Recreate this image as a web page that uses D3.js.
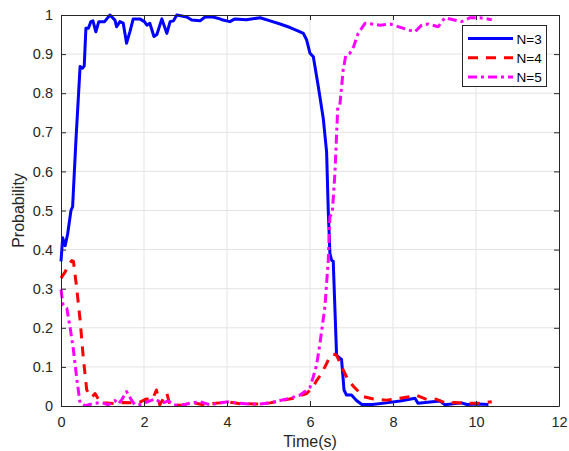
<!DOCTYPE html>
<html>
<head>
<meta charset="utf-8">
<title>Probability vs time</title>
<style>
body { margin: 0; background: #fff; }
svg { display: block; font-family: Arial, "Liberation Sans", sans-serif; }
.grid line { stroke: #e3e3e3; stroke-width: 1; }
.axis path, .axis line { stroke: #262626; }
.axis text { fill: #262626; font-size: 14.5px; }
.series { fill: none; stroke-width: 3; stroke-linejoin: round; }
</style>
</head>
<body>
<svg id="chart" width="569" height="451"></svg>
<script src="https://cdnjs.cloudflare.com/ajax/libs/d3/7.8.5/d3.min.js"></script>
<script>
// values
const xTicks = [0, 2, 4, 6, 8, 10, 12];
const yTicks = [0, 0.1, 0.2, 0.3, 0.4, 0.5, 0.6, 0.7, 0.8, 0.9, 1];
const seriesNames = ["N=3", "N=4", "N=5"];

const n3Time = [0, 0.04, 0.1, 0.16, 0.24, 0.28, 0.36, 0.46, 0.52, 0.56, 0.6, 0.66, 0.72, 0.77, 0.84, 0.91,
  1.05, 1.18, 1.3, 1.34, 1.42, 1.5, 1.58, 1.66, 1.74, 1.9, 2.01, 2.07, 2.14, 2.24, 2.31, 2.43, 2.55, 2.63,
  2.71, 2.79, 3.03, 3.15, 3.35, 3.47, 3.66, 3.83, 3.9, 4.07, 4.19, 4.47, 4.8, 5.04, 5.28, 5.52, 5.72, 5.84,
  5.92, 6.0, 6.08, 6.2, 6.32, 6.4, 6.44, 6.48, 6.52, 6.56, 6.6, 6.64, 6.7, 6.76, 6.82, 6.88, 7.0, 7.12,
  7.25, 7.5, 7.84, 8.17, 8.53, 8.6, 9.13, 9.25, 9.65, 9.78, 10.06, 10.3];
const n3Prob = [0.37, 0.43, 0.41, 0.44, 0.5, 0.51, 0.68, 0.868, 0.864, 0.87, 0.966, 0.966, 0.983, 0.985, 0.957, 0.983,
  0.983, 1.0, 0.987, 0.97, 0.983, 0.979, 0.928, 0.957, 0.99, 0.99, 0.983, 0.974, 0.979, 0.945, 0.95, 0.99, 0.953, 0.983,
  0.985, 1.0, 0.995, 0.987, 0.985, 0.995, 0.995, 0.99, 0.987, 0.983, 0.99, 0.988, 0.993, 0.985, 0.977, 0.968, 0.959, 0.953,
  0.936, 0.902, 0.893, 0.817, 0.735, 0.65, 0.5, 0.39, 0.373, 0.37, 0.25, 0.13, 0.124, 0.119, 0.041, 0.028, 0.028, 0.014,
  0.004, 0.004, 0.008, 0.013, 0.02, 0.007, 0.013, 0.003, 0.008, 0.004, 0.005, 0.004];

const n4Time = [0, 0.1, 0.18, 0.26, 0.3, 0.38, 0.46, 0.54, 0.62, 0.74, 0.82, 0.96, 1.1, 1.3, 1.5, 1.7, 1.9,
  2.06, 2.2, 2.3, 2.38, 2.55, 2.62, 2.9, 3.2, 3.4, 3.83, 4.07, 4.31, 4.8, 5.04, 5.28, 5.6, 5.92, 6.08, 6.16,
  6.26, 6.36, 6.48, 6.56, 6.64, 6.8, 6.92, 7.05, 7.29, 7.53, 7.85, 8.17, 8.41, 8.57, 8.81, 9.05, 9.29, 9.49,
  9.78, 10.1, 10.38];
const n4Prob = [0.327, 0.343, 0.36, 0.372, 0.37, 0.3, 0.22, 0.12, 0.041, 0.022, 0.032, 0.007, 0.008, 0.006, 0.009, 0.008, 0.01,
  0.018, 0.016, 0.041, 0.003, 0.033, 0.004, 0.002, 0.008, 0.004, 0.008, 0.01, 0.006, 0.005, 0.008, 0.013, 0.02, 0.032, 0.05, 0.065,
  0.08, 0.1, 0.126, 0.133, 0.13, 0.092, 0.066, 0.05, 0.024, 0.018, 0.015, 0.02, 0.024, 0.027, 0.017, 0.017, 0.007, 0.009,
  0.007, 0.007, 0.011];

const n5Time = [0, 0.05, 0.14, 0.22, 0.3, 0.38, 0.46, 0.58, 0.82, 0.98, 1.14, 1.3, 1.38, 1.47, 1.58, 1.7, 1.78,
  1.94, 2.14, 2.27, 2.43, 2.59, 2.7, 2.87, 3.15, 3.35, 3.59, 3.83, 4.07, 4.31, 4.55, 4.8, 5.04, 5.28, 5.52,
  5.76, 5.88, 6.0, 6.08, 6.16, 6.24, 6.36, 6.44, 6.48, 6.54, 6.6, 6.67, 6.72, 6.8, 6.86, 6.96, 7.05, 7.16,
  7.33, 7.49, 7.69, 7.93, 8.33, 8.53, 8.69, 8.85, 9.09, 9.25, 9.45, 9.65, 9.86, 10.1, 10.38];
const n5Prob = [0.298, 0.258, 0.25, 0.2, 0.143, 0.07, 0.007, 0.001, 0.007, 0.009, 0.003, 0.014, 0.005, 0.017, 0.037, 0.015, 0.003,
  0.004, 0.013, 0.018, 0.007, 0.013, 0.003, 0.001, 0.008, 0.011, 0.003, 0.008, 0.011, 0.007, 0.005, 0.005, 0.008, 0.014, 0.02,
  0.028, 0.037, 0.048, 0.075, 0.105, 0.16, 0.254, 0.373, 0.484, 0.497, 0.595, 0.766, 0.77, 0.86, 0.895, 0.902, 0.919, 0.953,
  0.979, 0.977, 0.974, 0.977, 0.963, 0.957, 0.974, 0.977, 0.97, 0.993, 0.988, 0.983, 0.993, 0.993, 0.988];

const seriesTimes = [n3Time, n4Time, n5Time];
const seriesProbs = [n3Prob, n4Prob, n5Prob];
const seriesColors = ["#0000ff", "#ff0000", "#ff00ff"];
const seriesDash = [null, "10,8", "9,4,3,4"];

const plotLeft = 61, plotRight = 559, plotTop = 15, plotBottom = 406;
const svg = d3.select("#chart");

const x = d3.scaleLinear().domain([0, 12]).range([plotLeft, plotRight]);
const y = d3.scaleLinear().domain([0, 1]).range([plotBottom, plotTop]);

svg.append("rect").attr("x", plotLeft).attr("y", plotTop)
  .attr("width", plotRight - plotLeft).attr("height", plotBottom - plotTop).attr("fill", "#fff");

// grid
const grid = svg.append("g").attr("class", "grid");
grid.selectAll(".gx").data(xTicks.slice(1, -1)).enter().append("line")
  .attr("x1", d => x(d)).attr("x2", d => x(d)).attr("y1", plotTop).attr("y2", plotBottom);
grid.selectAll(".gy").data(yTicks.slice(1, -1)).enter().append("line")
  .attr("x1", plotLeft).attr("x2", plotRight).attr("y1", d => y(d)).attr("y2", d => y(d));

// series
const line = d3.line().x(d => x(d[0])).y(d => y(d[1]));
seriesNames.forEach((name, i) => {
  const pts = seriesTimes[i].map((t, k) => [t, seriesProbs[i][k]]);
  svg.append("path").datum(pts).attr("class", "series")
    .attr("stroke", seriesColors[i])
    .attr("stroke-dasharray", seriesDash[i])
    .attr("d", line);
});

// axes (ticks point inward, box on)
const fmt = d => String(d);
svg.append("g").attr("class", "axis").attr("transform", `translate(0,${plotBottom})`)
  .call(d3.axisBottom(x).tickValues(xTicks).tickFormat(fmt).tickSizeInner(-5).tickSizeOuter(0).tickPadding(11));
svg.append("g").attr("class", "axis").attr("transform", `translate(${plotLeft},0)`)
  .call(d3.axisLeft(y).tickValues(yTicks).tickFormat(fmt).tickSizeInner(-5).tickSizeOuter(0).tickPadding(8));
svg.append("g").attr("class", "axis").attr("transform", `translate(0,${plotTop})`)
  .call(d3.axisTop(x).tickValues(xTicks).tickFormat("").tickSizeInner(-5).tickSizeOuter(0));
svg.append("g").attr("class", "axis").attr("transform", `translate(${plotRight},0)`)
  .call(d3.axisRight(y).tickValues(yTicks).tickFormat("").tickSizeInner(-5).tickSizeOuter(0));

// axis labels
svg.append("text").attr("x", (plotLeft + plotRight) / 2).attr("y", 447)
  .attr("text-anchor", "middle").attr("fill", "#262626").style("font-size", "16px").text("Time(s)");
svg.append("text").attr("transform", `translate(24,${(plotTop + plotBottom) / 2}) rotate(-90)`)
  .attr("text-anchor", "middle").attr("fill", "#262626").style("font-size", "16px").text("Probability");

// legend
const lg = svg.append("g");
lg.append("rect").attr("x", 462.5).attr("y", 25.5).attr("width", 84).attr("height", 61)
  .attr("fill", "#fff").attr("stroke", "#262626").attr("stroke-width", 1);
seriesNames.forEach((name, i) => {
  const ry = 38.5 + i * 19.2;
  lg.append("line").attr("x1", 468).attr("x2", 513).attr("y1", ry).attr("y2", ry)
    .attr("stroke", seriesColors[i]).attr("stroke-width", 3)
    .attr("stroke-dasharray", seriesDash[i]);
  lg.append("text").attr("x", 516.5).attr("y", ry + 5)
    .attr("fill", "#000").style("font-size", "13.5px").text(name);
});
</script>
</body>
</html>
